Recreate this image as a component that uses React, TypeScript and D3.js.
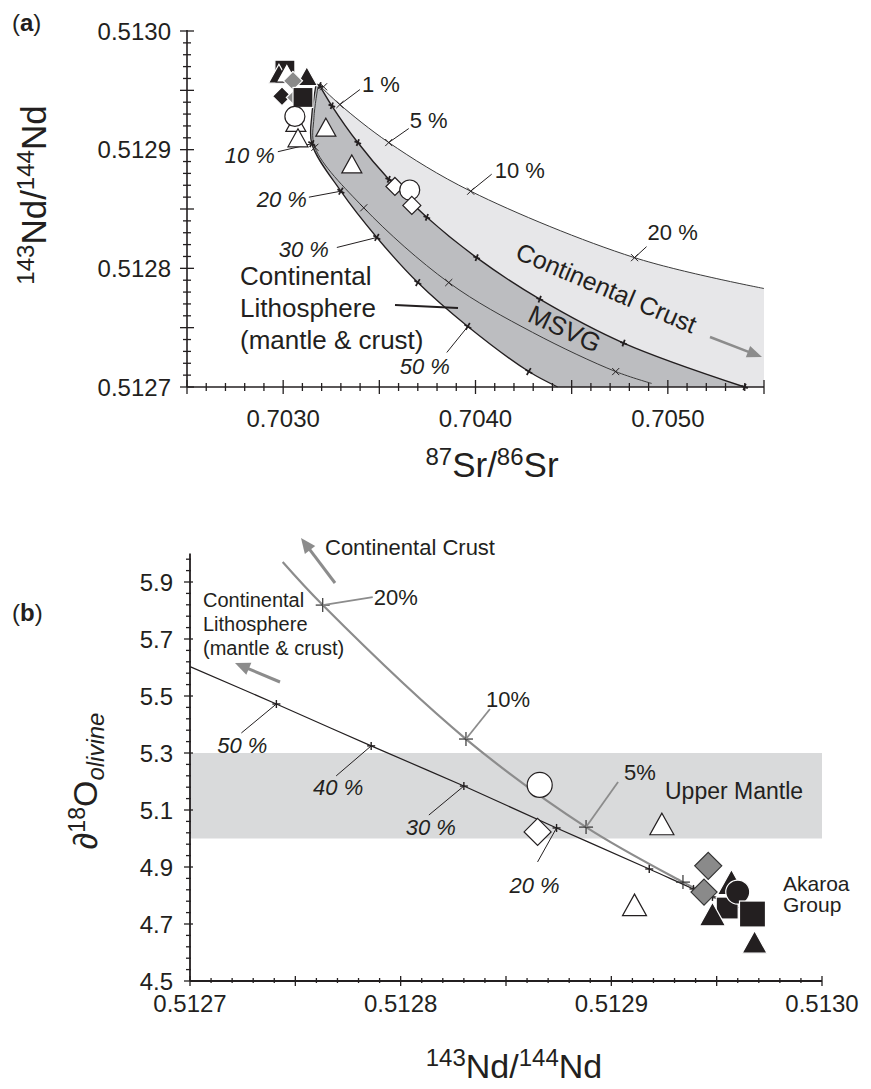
import React from 'react';
import * as d3 from 'd3';

const FONT = "'Liberation Sans', Arial, Helvetica, sans-serif";
const INK = '#231f20';
const GRAYLINE = '#8c8c8c';

// ---------- tick labels ----------
const aXLabels = ['0.7030', '0.7040', '0.7050'];
const aYLabels = ['0.5127', '0.5128', '0.5129', '0.5130'];
const bXLabels = ['0.5127', '0.5128', '0.5129', '0.5130'];
const bYLabels = ['4.5', '4.7', '4.9', '5.1', '5.3', '5.5', '5.7', '5.9'];

// ---------- panel (a): mixing curves [87Sr/86Sr, 143Nd/144Nd] ----------
const crustCurve: [number, number][] = [
  [0.70319, 0.512954], [0.703295, 0.512938], [0.703549, 0.512906], [0.703975, 0.512865],
  [0.704827, 0.512809], [0.7055, 0.512783],
];
const crustTicks: [number, number][] = [
  [0.70321, 0.512953], [0.703295, 0.512938], [0.703549, 0.512906], [0.703975, 0.512865], [0.704827, 0.512809],
];
const msvgUpper: [number, number][] = [
  [0.70319, 0.512954], [0.703253, 0.512937], [0.703388, 0.512906], [0.703549, 0.512875],
  [0.703747, 0.512843], [0.704006, 0.512809], [0.704334, 0.512774], [0.70477, 0.512737], [0.705399, 0.5127],
];
const msvgMid: [number, number][] = [
  [0.703181, 0.512953], [0.70316, 0.512927], [0.703165, 0.512902], [0.703419, 0.512851],
  [0.703861, 0.512788], [0.704297, 0.512746], [0.704729, 0.512713], [0.704916, 0.512703],
];
const msvgMidTicks: [number, number][] = [
  [0.703165, 0.512902], [0.703419, 0.512851], [0.703861, 0.512788], [0.704729, 0.512713],
];
const lithoCurve: [number, number][] = [
  [0.70317, 0.512954], [0.703149, 0.512929], [0.703149, 0.512905], [0.7033, 0.512865],
  [0.703487, 0.512826], [0.7037, 0.512788], [0.70396, 0.512751], [0.704277, 0.512713], [0.704427, 0.5127],
];
const lithoTicks: [number, number][] = [
  [0.703149, 0.512905], [0.7033, 0.512865], [0.703487, 0.512826], [0.7037, 0.512788],
  [0.70396, 0.512751], [0.704277, 0.512713],
];

// ---------- panel (a): samples ----------
const aBlackSquares: [number, number][] = [[0.703009, 0.512967], [0.703103, 0.512944]];
const aBlackTriangles: [number, number][] = [[0.702978, 0.512964], [0.703123, 0.512962]];
const aWhiteTriangles: [number, number][] = [
  [0.703019, 0.512965], [0.703066, 0.512923], [0.703077, 0.51291], [0.703222, 0.512919], [0.703357, 0.512888],
];
const aGrayDiamonds: [number, number][] = [[0.703051, 0.512958], [0.703066, 0.512944]];
const aBlackDiamonds: [number, number][] = [[0.702994, 0.512945]];
const aWhiteCircles: [number, number][] = [[0.703061, 0.512928], [0.703658, 0.512866]];
const aWhiteDiamonds: [number, number][] = [[0.703581, 0.512869], [0.703669, 0.512853]];

// ---------- panel (b): mixing curves [143Nd/144Nd, d18O] ----------
const bCrustCurve: [number, number][] = [
  [0.512744, 5.97], [0.512763, 5.819], [0.512831, 5.349], [0.512888, 5.04],
  [0.512934, 4.847], [0.512944, 4.809], [0.512949, 4.791],
];
const bCrustTicks: [number, number][] = [
  [0.512763, 5.819], [0.512831, 5.349], [0.512888, 5.04], [0.512934, 4.847], [0.512944, 4.809],
];
const bLithoLine: [number, number][] = [
  [0.5127, 5.603], [0.512741, 5.472], [0.512786, 5.325], [0.51283, 5.184], [0.512874, 5.037],
  [0.512918, 4.893], [0.512939, 4.823], [0.512948, 4.795], [0.512961, 4.756],
];
const bLithoTicks: [number, number][] = [
  [0.512741, 5.472], [0.512786, 5.325], [0.51283, 5.184], [0.512874, 5.037],
  [0.512918, 4.893], [0.512939, 4.823], [0.512948, 4.795],
];
const upperMantle: [number, number] = [5.0, 5.3];

// ---------- panel (b): samples ----------
const bWhiteCircles: [number, number][] = [[0.512866, 5.188]];
const bWhiteDiamonds: [number, number][] = [[0.512865, 5.023]];
const bWhiteTriangles: [number, number][] = [[0.512924, 5.051], [0.512911, 4.767]];
const bGrayDiamonds: [number, number][] = [[0.512946, 4.904], [0.512944, 4.812]];
const bBlackTrianglesBack: [number, number][] = [[0.512957, 4.847]];
const bBlackSquaresBack: [number, number][] = [[0.512955, 4.756]];
const bBlackTriangles: [number, number][] = [[0.512948, 4.735]];
const bBlackCircles: [number, number][] = [[0.51296, 4.812]];
const bBlackSquares: [number, number][] = [[0.512967, 4.735]];
const bBlackTrianglesFront: [number, number][] = [[0.512968, 4.637]];

// ---------- scales ----------
const ax = d3.scaleLinear().domain([0.7025, 0.7055]).range([187, 764]);
const ay = d3.scaleLinear().domain([0.5127, 0.513]).range([387, 31]);
const bx = d3.scaleLinear().domain([0.5127, 0.513]).range([190, 822]);
const by = d3.scaleLinear().domain([4.5, 6.0]).range([981, 553.5]);

type P = [number, number];

function mkLine(sx: any, sy: any) {
  return d3.line<P>().x((d) => sx(d[0])).y((d) => sy(d[1])).curve(d3.curveCatmullRom.alpha(0.5));
}
const lineA = mkLine(ax, ay);
const lineB = mkLine(bx, by);

function revPath(pts: P[]) {
  return (lineA(pts.slice().reverse()) || '').replace(/^M/, 'L');
}

// ---------- symbols ----------
function Sym({ shape, x, y, s, fill, stroke, sw = 1.2 }: any) {
  if (shape === 'tri') {
    const w = s, h = s * 0.9;
    const pts = `${x},${y - h / 2} ${x - w / 2},${y + h / 2} ${x + w / 2},${y + h / 2}`;
    return <polygon points={pts} fill={fill} stroke={stroke} strokeWidth={sw} strokeLinejoin="miter" />;
  }
  if (shape === 'sq') {
    return <rect x={x - s / 2} y={y - s / 2} width={s} height={s} fill={fill} stroke={stroke} strokeWidth={sw} />;
  }
  if (shape === 'dia') {
    const r = s / 2;
    const pts = `${x},${y - r} ${x + r},${y} ${x},${y + r} ${x - r},${y}`;
    return <polygon points={pts} fill={fill} stroke={stroke} strokeWidth={sw} />;
  }
  return <circle cx={x} cy={y} r={s / 2} fill={fill} stroke={stroke} strokeWidth={sw} />;
}

function Cross({ x, y, r, rot, color = INK, sw = 1 }: any) {
  const a = (rot * Math.PI) / 180;
  const c = Math.cos(a) * r, s = Math.sin(a) * r;
  return (
    <g stroke={color} strokeWidth={sw}>
      <line x1={x - c} y1={y - s} x2={x + c} y2={y + s} />
      <line x1={x + s} y1={y - c} x2={x - s} y2={y + c} />
    </g>
  );
}

function Arrow({ x1, y1, x2, y2, color, w = 3, hl = 14, hw = 12 }: any) {
  const dx = x2 - x1, dy = y2 - y1;
  const L = Math.hypot(dx, dy);
  const ux = dx / L, uy = dy / L;
  const bx0 = x2 - ux * hl, by0 = y2 - uy * hl;
  const px = -uy * hw / 2, py = ux * hw / 2;
  return (
    <g>
      <line x1={x1} y1={y1} x2={bx0 + ux * 2} y2={by0 + uy * 2} stroke={color} strokeWidth={w} />
      <polygon points={`${x2},${y2} ${bx0 + px},${by0 + py} ${bx0 - px},${by0 - py}`} fill={color} />
    </g>
  );
}

export default function App() {
  const lightPath =
    (lineA(crustCurve) || '') +
    `L${ax(0.7055)},${ay(0.5127)}` +
    revPath(msvgUpper) + 'Z';
  const darkPath =
    (lineA(msvgUpper) || '') +
    revPath(lithoCurve) + 'Z';

  const aXt = d3.range(0, 31).map((i) => ({ v: 0.7025 + i * 0.0001, major: i % 5 === 0 }));
  const aYt = d3.range(0, 31).map((i) => ({ v: 0.5127 + i * 0.00001, major: i % 5 === 0 }));
  const bXt = d3.range(0, 31).map((i) => ({ v: 0.5127 + i * 0.00001, major: i % 5 === 0 }));
  const bYt = d3.range(0, 38).map((i) => ({ v: 4.5 + i * 0.04, major: i % 5 === 0 }));

  const P = (sx: any, sy: any, d: P) => [sx(d[0]), sy(d[1])];

  const aSym = (arr: P[], shape: string, s: number, fill: string, stroke: string) =>
    arr.map((d, i) => <Sym key={shape + fill + i} shape={shape} x={ax(d[0])} y={ay(d[1])} s={s} fill={fill} stroke={stroke} />);
  const bSym = (arr: P[], shape: string, s: number, fill: string, stroke: string) =>
    arr.map((d, i) => <Sym key={shape + fill + i} shape={shape} x={bx(d[0])} y={by(d[1])} s={s} fill={fill} stroke={stroke} />);

  const aLeader = (d: P, dx: number, dy: number) => {
    const [x, y] = P(ax, ay, d);
    return <line x1={x} y1={y} x2={x + dx} y2={y + dy} stroke={INK} strokeWidth={1} />;
  };
  const bLeader = (d: P, dx: number, dy: number, color: string, w: number) => {
    const [x, y] = P(bx, by, d);
    return <line x1={x} y1={y} x2={x + dx} y2={y + dy} stroke={color} strokeWidth={w} />;
  };

  return (
    <svg width={871} height={1089} style={{ position: 'absolute', left: 0, top: 0, background: '#fff' }}
      fontFamily={FONT} fill={INK}>
      <rect x={0} y={0} width={871} height={1089} fill="#fff" />
      {/* ================= PANEL (a) ================= */}
      <text x={12} y={31} fontSize={24}>(<tspan fontWeight="bold">a</tspan>)</text>

      <path d={lightPath} fill="#e7e7e9" />
      <path d={darkPath} fill="#bcbdc0" />
      <path d={lineA(crustCurve) || ''} fill="none" stroke="#3a3a3a" strokeWidth={1} />
      <path d={lineA(msvgMid) || ''} fill="none" stroke="#3a3a3a" strokeWidth={1} />
      <path d={lineA(msvgUpper) || ''} fill="none" stroke={INK} strokeWidth={1.4} />
      <path d={lineA(lithoCurve) || ''} fill="none" stroke={INK} strokeWidth={1.3} />

      {crustTicks.map((d, i) => <Cross key={'ct' + i} x={ax(d[0])} y={ay(d[1])} r={5} rot={45} />)}
      {msvgMidTicks.map((d, i) => <Cross key={'mt' + i} x={ax(d[0])} y={ay(d[1])} r={5} rot={45} />)}
      {msvgUpper.map((d, i) => <Cross key={'ut' + i} x={ax(d[0])} y={ay(d[1])} r={3.5} rot={20} sw={1.8} />)}
      {lithoTicks.map((d, i) => <Cross key={'lt' + i} x={ax(d[0])} y={ay(d[1])} r={4} rot={30} sw={1.7} />)}

      {aLeader(crustTicks[1], 20, -15)}
      <text x={ax(crustTicks[1][0]) + 22} y={ay(crustTicks[1][1]) - 13} fontSize={22}>1 %</text>
      {aLeader(crustTicks[2], 20, -14)}
      <text x={ax(crustTicks[2][0]) + 21} y={ay(crustTicks[2][1]) - 15} fontSize={22}>5 %</text>
      {aLeader(crustTicks[3], 21, -17)}
      <text x={ax(crustTicks[3][0]) + 24} y={ay(crustTicks[3][1]) - 13} fontSize={22}>10 %</text>
      {aLeader(crustTicks[4], 12, -11)}
      <text x={ax(crustTicks[4][0]) + 13} y={ay(crustTicks[4][1]) - 18} fontSize={22}>20 %</text>

      {aLeader(lithoTicks[0], -34, 8)}
      <text x={ax(lithoTicks[0][0]) - 37} y={ay(lithoTicks[0][1]) + 19} fontSize={22} fontStyle="italic" textAnchor="end">10 %</text>
      {aLeader(lithoTicks[1], -32, 6)}
      <text x={ax(lithoTicks[1][0]) - 34} y={ay(lithoTicks[1][1]) + 16} fontSize={22} fontStyle="italic" textAnchor="end">20 %</text>
      {aLeader(lithoTicks[2], -40, 10)}
      <text x={ax(lithoTicks[2][0]) - 48} y={ay(lithoTicks[2][1]) + 20} fontSize={22} fontStyle="italic" textAnchor="end">30 %</text>
      {aLeader(lithoTicks[4], -21, 26)}
      <text x={ax(lithoTicks[4][0]) - 18} y={ay(lithoTicks[4][1]) + 48} fontSize={22} fontStyle="italic" textAnchor="end">50 %</text>

      <text fontSize={26}>
        <tspan x={240} y={285}>Continental</tspan>
        <tspan x={240} y={317}>Lithosphere</tspan>
        <tspan x={240} y={349}>(mantle &amp; crust)</tspan>
      </text>
      <line x1={395} y1={305} x2={458} y2={308} stroke={INK} strokeWidth={2} />

      <text x={0} y={0} fontSize={26} textAnchor="middle" transform="translate(561,337) rotate(25)">MSVG</text>
      <text x={0} y={0} fontSize={25} textAnchor="middle" transform="translate(603,296) rotate(23)">Continental Crust</text>
      <Arrow x1={710} y1={337} x2={762} y2={357} color={GRAYLINE} w={2.5} hl={15} hw={12} />

      {aSym(aBlackSquares.slice(0, 1), 'sq', 20, INK, '#fff')}
      {aSym(aBlackTriangles.slice(0, 1), 'tri', 21, INK, '#fff')}
      {aSym(aWhiteTriangles.slice(0, 1), 'tri', 21, '#fff', INK)}
      {aSym(aBlackTriangles.slice(1), 'tri', 21, INK, '#fff')}
      {aSym(aGrayDiamonds.slice(0, 1), 'dia', 19, '#8a8a8a', '#fff')}
      {aSym(aBlackDiamonds, 'dia', 19, INK, '#fff')}
      {aSym(aGrayDiamonds.slice(1), 'dia', 19, '#8a8a8a', '#fff')}
      {aSym(aBlackSquares.slice(1), 'sq', 20, INK, '#fff')}
      {aSym(aWhiteTriangles.slice(1, 3), 'tri', 20, '#fff', INK)}
      {aSym(aWhiteCircles.slice(0, 1), 'circ', 20, '#fff', INK)}
      {aSym(aWhiteTriangles.slice(3), 'tri', 20, '#fff', INK)}
      {aSym(aWhiteDiamonds.slice(0, 1), 'dia', 18, '#fff', INK)}
      {aSym(aWhiteCircles.slice(1), 'circ', 20, '#fff', INK)}
      {aSym(aWhiteDiamonds.slice(1), 'dia', 18, '#fff', INK)}

      <line x1={187} y1={ay(0.5127)} x2={ax(0.7055)} y2={ay(0.5127)} stroke={INK} strokeWidth={1.6} />
      <line x1={187} y1={ay(0.5127)} x2={187} y2={ay(0.513) - 1} stroke={INK} strokeWidth={1.6} />
      {aXt.map((t, i) => (
        <line key={'axt' + i} x1={ax(t.v)} x2={ax(t.v)} y1={387 - (t.major ? 7 : 4)} y2={387 + (t.major ? 7 : 4)} stroke={INK} strokeWidth={1.3} />
      ))}
      {aYt.map((t, i) => (
        <line key={'ayt' + i} y1={ay(t.v)} y2={ay(t.v)} x1={187 - (t.major ? 7 : 4)} x2={187 + (t.major ? 7 : 4)} stroke={INK} strokeWidth={1.3} />
      ))}
      {aXLabels.map((l) => (
        <text key={l} x={ax(+l)} y={427} fontSize={24} textAnchor="middle">{l}</text>
      ))}
      {aYLabels.map((l) => (
        <text key={l} x={171} y={ay(+l) + 8.5} fontSize={24} textAnchor="end">{l}</text>
      ))}
      <text x={492} y={477} fontSize={35} textAnchor="middle">
        <tspan fontSize={24} dy={-12}>87</tspan><tspan dy={12}>Sr/</tspan><tspan fontSize={24} dy={-12}>86</tspan><tspan dy={12}>Sr</tspan>
      </text>
      <text fontSize={35} textAnchor="middle" transform="translate(46,195) rotate(-90)">
        <tspan fontSize={24} dy={-12}>143</tspan><tspan dy={12}>Nd/</tspan><tspan fontSize={24} dy={-12}>144</tspan><tspan dy={12}>Nd</tspan>
      </text>

      {/* ================= PANEL (b) ================= */}
      <text x={12} y={621} fontSize={24}>(<tspan fontWeight="bold">b</tspan>)</text>

      <rect x={bx(0.5127)} y={by(upperMantle[1])} width={bx(0.513) - bx(0.5127)} height={by(upperMantle[0]) - by(upperMantle[1])} fill="#d9dadb" />

      <path d={lineB(bLithoLine) || ''} fill="none" stroke={INK} strokeWidth={1.2} />
      <path d={lineB(bCrustCurve) || ''} fill="none" stroke={GRAYLINE} strokeWidth={2.2} />
      {bLithoTicks.map((d, i) => <Cross key={'blt' + i} x={bx(d[0])} y={by(d[1])} r={4} rot={0} sw={1.4} />)}
      {bCrustTicks.map((d, i) => <Cross key={'bct' + i} x={bx(d[0])} y={by(d[1])} r={7} rot={0} sw={1.2} color="#333" />)}

      {bLeader(bCrustTicks[0], 50, -8, GRAYLINE, 1.8)}
      <text x={bx(bCrustTicks[0][0]) + 51} y={by(bCrustTicks[0][1])} fontSize={22}>20%</text>
      {bLeader(bCrustTicks[1], 24, -30, GRAYLINE, 1.8)}
      <text x={bx(bCrustTicks[1][0]) + 20} y={by(bCrustTicks[1][1]) - 32} fontSize={22}>10%</text>
      {bLeader(bCrustTicks[2], 32, -45, GRAYLINE, 1.8)}
      <text x={bx(bCrustTicks[2][0]) + 38} y={by(bCrustTicks[2][1]) - 47} fontSize={22}>5%</text>

      {bLeader(bLithoTicks[0], -35, 29, INK, 1)}
      <text x={bx(bLithoTicks[0][0]) - 34} y={by(bLithoTicks[0][1]) + 49} fontSize={22} fontStyle="italic" textAnchor="middle">50 %</text>
      {bLeader(bLithoTicks[1], -35, 30, INK, 1)}
      <text x={bx(bLithoTicks[1][0]) - 33} y={by(bLithoTicks[1][1]) + 49} fontSize={22} fontStyle="italic" textAnchor="middle">40 %</text>
      {bLeader(bLithoTicks[2], -35, 29, INK, 1)}
      <text x={bx(bLithoTicks[2][0]) - 33} y={by(bLithoTicks[2][1]) + 49} fontSize={22} fontStyle="italic" textAnchor="middle">30 %</text>
      {bLeader(bLithoTicks[3], -19, 34, INK, 1)}
      <text x={bx(bLithoTicks[3][0]) - 22} y={by(bLithoTicks[3][1]) + 65} fontSize={22} fontStyle="italic" textAnchor="middle">20 %</text>

      <text x={325} y={555} fontSize={22}>Continental Crust</text>
      <Arrow x1={335} y1={583} x2={301} y2={538} color={GRAYLINE} w={3} hl={15} hw={13} />
      <text fontSize={20}>
        <tspan x={203} y={607}>Continental</tspan>
        <tspan x={203} y={631}>Lithosphere</tspan>
        <tspan x={203} y={655}>(mantle &amp; crust)</tspan>
      </text>
      <Arrow x1={280} y1={682} x2={235} y2={663} color={GRAYLINE} w={3} hl={15} hw={13} />
      <text x={665} y={799} fontSize={23}>Upper Mantle</text>
      <text fontSize={21}>
        <tspan x={783} y={891}>Akaroa</tspan>
        <tspan x={783} y={912}>Group</tspan>
      </text>

      {bSym(bWhiteCircles, 'circ', 25, '#fff', INK)}
      {bSym(bWhiteDiamonds, 'dia', 27, '#fff', INK)}
      {bSym(bWhiteTriangles, 'tri', 24, '#fff', INK)}
      {bSym(bGrayDiamonds.slice(0, 1), 'dia', 27, '#8a8a8a', '#333')}
      {bSym(bBlackTrianglesBack, 'tri', 28, INK, '#fff')}
      {bSym(bGrayDiamonds.slice(1), 'dia', 26, '#8a8a8a', '#333')}
      {bSym(bBlackSquaresBack, 'sq', 22, INK, '#fff')}
      {bSym(bBlackTriangles, 'tri', 26, INK, '#fff')}
      {bSym(bBlackCircles, 'circ', 24, INK, '#fff')}
      {bSym(bBlackSquares, 'sq', 26, INK, '#fff')}
      {bSym(bBlackTrianglesFront, 'tri', 25, INK, '#fff')}

      <line x1={190} y1={981} x2={bx(0.513)} y2={981} stroke={INK} strokeWidth={1.8} />
      <line x1={190} y1={981} x2={190} y2={by(6.0)} stroke={INK} strokeWidth={1.8} />
      {bXt.map((t, i) => (
        <line key={'bxt' + i} x1={bx(t.v)} x2={bx(t.v)} y1={981 - (t.major ? 5 : 3)} y2={981 + (t.major ? 5 : 2)} stroke={INK} strokeWidth={1.3} />
      ))}
      {bYt.map((t, i) => (
        <line key={'byt' + i} y1={by(t.v)} y2={by(t.v)} x1={190 - (t.major ? 6 : 4)} x2={190 + (t.major ? 3 : 1)} stroke={INK} strokeWidth={1.3} />
      ))}
      {bXLabels.map((l) => (
        <text key={'bx' + l} x={bx(+l)} y={1012} fontSize={24} textAnchor="middle">{l}</text>
      ))}
      {bYLabels.map((l) => (
        <text key={'by' + l} x={173} y={by(+l) + 8.5} fontSize={24} textAnchor="end">{l}</text>
      ))}
      <text x={514} y={1078} fontSize={34} textAnchor="middle">
        <tspan fontSize={24} dy={-12}>143</tspan><tspan dy={12}>Nd/</tspan><tspan fontSize={24} dy={-12}>144</tspan><tspan dy={12}>Nd</tspan>
      </text>
      <text fontSize={34} textAnchor="middle" transform="translate(97,781) rotate(-90)">
        <tspan fontStyle="italic">∂</tspan><tspan fontSize={23} dy={-12}>18</tspan><tspan dy={12}>O</tspan><tspan fontSize={24} fontStyle="italic" dy={7}>olivine</tspan>
      </text>
    </svg>
  );
}
